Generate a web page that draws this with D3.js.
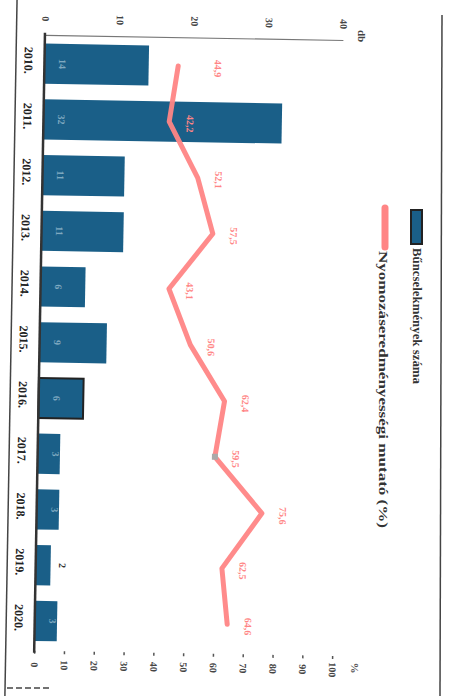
<!DOCTYPE html>
<html><head><meta charset="utf-8">
<script src="https://cdn.jsdelivr.net/npm/d3@7"></script>
<style>body{margin:0;background:#fff}</style>
</head><body>
<svg id="c" width="452" height="696"></svg>
<script>
const years = ["2010.","2011.","2012.","2013.","2014.","2015.","2016.","2017.","2018.","2019.","2020."];
const crimes = [14, 32, 11, 11, 6, 9, 6, 3, 3, 2, 3];
const rates = [44.9, 42.2, 52.1, 57.5, 43.1, 50.6, 62.4, 59.5, 75.6, 62.5, 64.6];
const dbTicks = [0, 10, 20, 30, 40];
const pctTicks = [0, 10, 20, 30, 40, 50, 60, 70, 80, 90, 100];
const legendLabels = ["Bűncselekmények száma", "Nyomozáseredményességi mutató (%)"];
const unitLabels = ["db", "%"];

const FONT = "'Liberation Serif', 'DejaVu Serif', serif";
const BAR = "#1a5f88", LINE = "#ff8585", INK = "#333";

const svg = d3.select("#c");
svg.append("rect").attr("width", 452).attr("height", 696).attr("fill", "#fff");

const g = svg.append("g").attr("transform", "rotate(1,226,348)");

const x0 = 39.5, x1 = 337.5;
const xDb = d3.scaleLinear().domain([0, 40]).range([x0, x1]);
const xPct = d3.scaleLinear().domain([0, 100]).range([x0, x1]);
const y = d3.scaleBand().domain(years).range([39, 652]).paddingInner(0.28).paddingOuter(0.14);
const yc = d => y(d) + y.bandwidth() / 2;

// left frame
g.append("line").attr("x1", 11).attr("x2", 11).attr("y1", -10).attr("y2", 700)
  .attr("stroke", "#444").attr("stroke-width", 1.5);

// top db axis
const topAx = g.append("g").attr("transform", "translate(0,38)")
  .call(d3.axisTop(xDb).tickValues(dbTicks).tickSize(0).tickFormat(d3.format("d")));
topAx.select(".domain").attr("stroke", "#777").attr("stroke-width", 1.2);
topAx.selectAll("text").attr("y", null).attr("dy", null)
  .attr("transform", "translate(0,-16) rotate(90)")
  .attr("text-anchor", "middle").attr("dominant-baseline", "central")
  .attr("font-family", FONT).attr("font-weight", "bold").attr("font-size", 10).attr("fill", "#444");

// bottom % axis
const botAx = g.append("g").attr("transform", "translate(0,654)")
  .call(d3.axisBottom(xPct).tickValues(pctTicks).tickSize(3).tickFormat(d3.format("d")));
botAx.select(".domain").remove();
botAx.selectAll("line").attr("stroke", "#555").attr("stroke-width", 1.5);
botAx.selectAll("text").attr("y", null).attr("dy", null)
  .attr("transform", "translate(0,14) rotate(90)")
  .attr("text-anchor", "middle").attr("dominant-baseline", "central")
  .attr("font-family", FONT).attr("font-weight", "bold").attr("font-size", 10).attr("fill", "#444");

// bars
g.selectAll("rect.bar").data(years).join("rect").attr("class", "bar")
  .attr("x", xDb(0)).attr("y", d => y(d))
  .attr("width", (d, i) => xDb(crimes[i]) - xDb(0)).attr("height", y.bandwidth())
  .attr("fill", BAR)
  .attr("stroke", (d, i) => i === 6 ? "#222" : "none").attr("stroke-width", 2);

// bar value labels
g.selectAll("text.bv").data(years).join("text").attr("class", "bv")
  .attr("transform", (d, i) => {
    const xx = crimes[i] < 3 ? xDb(crimes[i]) + 12 : xDb(0) + 18;
    return `translate(${xx},${yc(d)}) rotate(90)`;
  })
  .attr("text-anchor", "middle").attr("dominant-baseline", "central")
  .attr("font-family", FONT).attr("font-weight", "bold").attr("font-size", 10)
  .attr("fill", (d, i) => crimes[i] < 3 ? "#333" : "#7fa9c0")
  .text((d, i) => crimes[i]);

// base axis line
g.append("line").attr("x1", x0).attr("x2", x0).attr("y1", 36).attr("y2", 656)
  .attr("stroke", INK).attr("stroke-width", 2.5);

// year labels
g.selectAll("text.yr").data(years).join("text").attr("class", "yr")
  .attr("transform", d => `translate(23.5,${yc(d) - 3}) rotate(90)`)
  .attr("text-anchor", "middle").attr("dominant-baseline", "central")
  .attr("font-family", FONT).attr("font-weight", "bold").attr("font-size", 12).attr("fill", "#222")
  .text(d => d);

// rate line
const line = d3.line().x((d, i) => xPct(d)).y((d, i) => yc(years[i]));
g.append("path").datum(rates).attr("d", line)
  .attr("fill", "none").attr("stroke", LINE).attr("stroke-width", 5)
  .attr("stroke-linejoin", "round").attr("stroke-linecap", "round").attr("opacity", 0.95);
g.append("rect").attr("x", xPct(rates[7]) - 3).attr("y", yc(years[7]) - 3)
  .attr("width", 6).attr("height", 6).attr("fill", "#aaa");

// rate labels
const fmt = v => d3.format(".1f")(v).replace(".", ",");
g.selectAll("text.rl").data(rates).join("text").attr("class", "rl")
  .attr("transform", (d, i) => `translate(${xPct(d) + (i === 0 ? 40 : 21)},${yc(years[i]) + 2}) rotate(90)`)
  .attr("text-anchor", "middle").attr("dominant-baseline", "central")
  .attr("font-family", FONT).attr("font-weight", "bold").attr("font-size", 10).attr("fill", LINE)
  .text(d => fmt(d));

// unit labels (screen coords)
svg.append("text").attr("transform", "translate(362,36) rotate(90)")
  .attr("text-anchor", "middle").attr("dominant-baseline", "central")
  .attr("font-family", FONT).attr("font-weight", "bold").attr("font-size", 11).attr("fill", "#444")
  .text(unitLabels[0]);
svg.append("text").attr("transform", "translate(355,668) rotate(90)")
  .attr("text-anchor", "middle").attr("dominant-baseline", "central")
  .attr("font-family", FONT).attr("font-weight", "bold").attr("font-size", 11).attr("fill", "#555")
  .text(unitLabels[1]);

// legend (screen coords)
svg.append("rect").attr("x", 411).attr("y", 210).attr("width", 11).attr("height", 34)
  .attr("fill", BAR).attr("stroke", "#222").attr("stroke-width", 2);
svg.append("text").attr("transform", "translate(417,248) rotate(90)")
  .attr("dominant-baseline", "central")
  .attr("font-family", FONT).attr("font-weight", "bold").attr("font-size", 13).attr("fill", "#333")
  .attr("textLength", 136).attr("lengthAdjust", "spacingAndGlyphs")
  .text(legendLabels[0]);
svg.append("line").attr("x1", 385).attr("x2", 385).attr("y1", 208).attr("y2", 247)
  .attr("stroke", LINE).attr("stroke-width", 7).attr("stroke-linecap", "round");
svg.append("text").attr("transform", "translate(383,251) rotate(90)")
  .attr("dominant-baseline", "central")
  .attr("font-family", FONT).attr("font-weight", "bold").attr("font-size", 13).attr("fill", "#333")
  .attr("textLength", 277).attr("lengthAdjust", "spacingAndGlyphs")
  .text(legendLabels[1]);

// right frame and bottom frame fragment
svg.append("line").attr("x1", 442).attr("x2", 440).attr("y1", 15).attr("y2", 696)
  .attr("stroke", "#444").attr("stroke-width", 1.5);
svg.append("line").attr("x1", 7).attr("x2", 50).attr("y1", 688).attr("y2", 688)
  .attr("stroke", "#444").attr("stroke-width", 1.5).attr("stroke-dasharray", "6,3");
</script>
</body></html>
